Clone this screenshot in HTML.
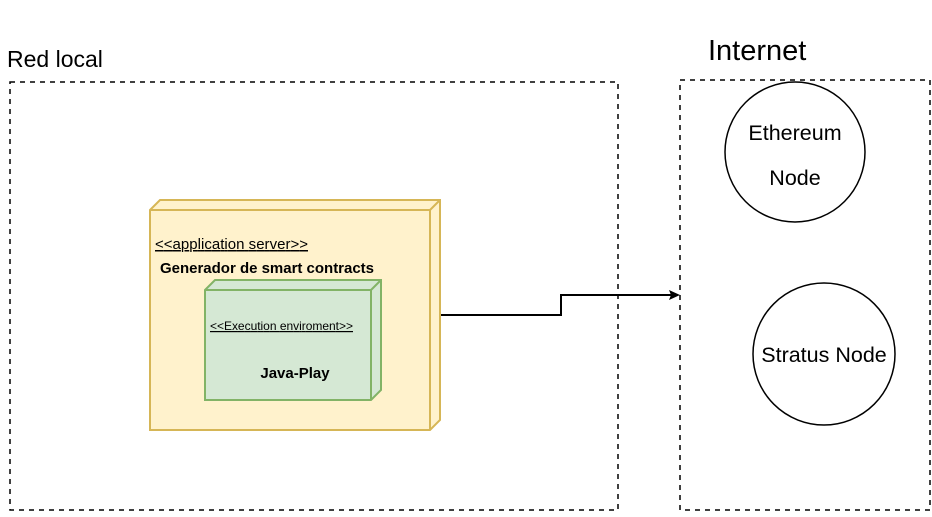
<!DOCTYPE html>
<html><head><style>body{margin:0;background:#fff}</style></head><body>
<svg width="932" height="512" xmlns="http://www.w3.org/2000/svg" font-family="Liberation Sans, Arial, sans-serif">
<rect x="10" y="82" width="608" height="428" fill="none" stroke="#000" stroke-width="1.5" stroke-dasharray="5,5"/>
<rect x="680" y="80" width="250" height="430" fill="none" stroke="#000" stroke-width="1.5" stroke-dasharray="5,5"/>
<text x="7" y="67" font-size="23">Red local</text>
<text x="708" y="60" font-size="29">Internet</text>
<circle cx="795" cy="152" r="70" fill="#fff" stroke="#000" stroke-width="1.5"/>
<text x="795" y="140" font-size="21.5" text-anchor="middle">Ethereum</text>
<text x="795" y="185" font-size="21.5" text-anchor="middle">Node</text>
<circle cx="824" cy="354" r="71" fill="#fff" stroke="#000" stroke-width="1.5"/>
<text x="824" y="362" font-size="21.5" text-anchor="middle">Stratus Node</text>
<g stroke="#d6b656" stroke-width="2" fill="#fff2cc">
<polygon points="150,210 160,200 440,200 440,420 430,430 150,430"/>
<path d="M150,210 L430,210 L430,430 M430,210 L440,200" fill="none"/>
</g>
<text x="155" y="249" font-size="15" text-decoration="underline" textLength="153">&lt;&lt;application server&gt;&gt;</text>
<text x="160" y="273" font-size="15" font-weight="bold" textLength="214">Generador de smart contracts</text>
<g stroke="#82b366" stroke-width="2" fill="#d5e8d4">
<polygon points="205,290 215,280 381,280 381,390 371,400 205,400"/>
<path d="M205,290 L371,290 L371,400 M371,290 L381,280" fill="none"/>
</g>
<text x="210" y="330" font-size="12" text-decoration="underline" textLength="143">&lt;&lt;Execution enviroment&gt;&gt;</text>
<text x="295" y="378" font-size="15" font-weight="bold" text-anchor="middle">Java-Play</text>
<path d="M441,315 L561,315 L561,295 L672,295" fill="none" stroke="#000" stroke-width="2"/>
<polygon points="680,295 669,290 671,295 669,300" fill="#000"/>
</svg>
</body></html>
